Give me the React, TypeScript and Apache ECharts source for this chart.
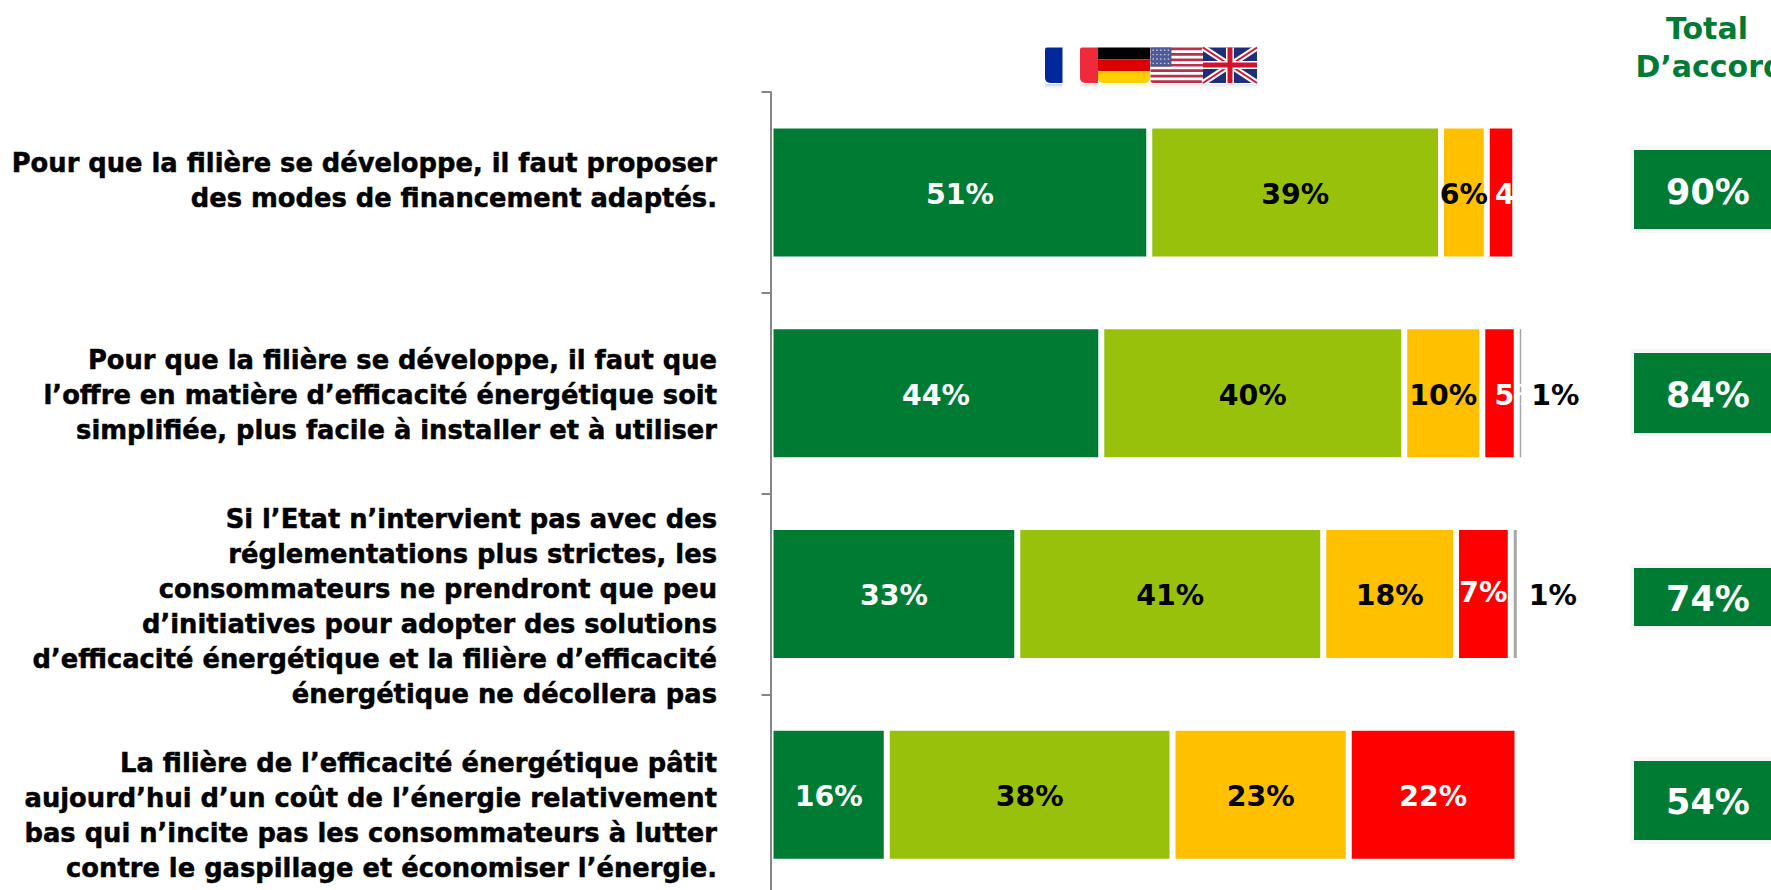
import React, { useEffect, useRef } from "react";
import * as echarts from "echarts";

const categories = [
  "Pour que la filière se développe, il faut proposer\ndes modes de financement adaptés.",
  "Pour que la filière se développe, il faut que\nl’offre en matière d’efficacité énergétique soit\nsimplifiée, plus facile à installer et à utiliser",
  "Si l’Etat n’intervient pas avec des\nréglementations plus strictes, les\nconsommateurs ne prendront que peu\nd’initiatives pour adopter des solutions\nd’efficacité énergétique et la filière d’efficacité\nénergétique ne décollera pas",
  "La filière de l’efficacité énergétique pâtit\naujourd’hui d’un coût de l’énergie relativement\nbas qui n’incite pas les consommateurs à lutter\ncontre le gaspillage et économiser l’énergie.",
];
const categoryCentres = [180, 395, 606.5, 815.5];

const darkGreen = [50.5, 44.1, 32.9, 15.5];
const lightGreen = [38.9, 40.4, 40.8, 38.1];
const orange = [6.1, 10.4, 17.7, 23.5];
const red = [3.8, 4.6, 7.3, 22.5];
const grey = [null, 1.0, 1.2, null];

const darkGreenLabels = ["51%", "44%", "33%", "16%"];
const lightGreenLabels = ["39%", "40%", "41%", "38%"];
const orangeLabels = ["6%", "10%", "18%", "23%"];
const redLabels = ["4%", "5%", "7%", "22%"];
const greyLabels = ["", "1%", "1%", ""];

const totalLabels = ["90%", "84%", "74%", "54%"];
const totalBoxes = [
  [150, 79],
  [353, 80],
  [568, 58],
  [761, 79],
];

const GREEN = "#007B34";
const FONT = "'DejaVu Sans', Verdana, sans-serif";
const labelSize = 28.4;

function flagElements() {
  const y = 47.5;
  const h = 35.5;
  const els: any[] = [];
  const rr = [0, 0, 5, 5];
  const rect = (x: number, yy: number, w: number, hh: number, fill: string, r: any = 0) =>
    els.push({ type: "rect", shape: { x, y: yy, width: w, height: hh, r }, style: { fill } });
  const refl = (x: number, w: number, c: string) =>
    els.push({
      type: "rect",
      shape: { x, y: y + h + 1, width: w, height: 7 },
      style: {
        fill: new echarts.graphic.LinearGradient(0, 0, 0, 1, [
          { offset: 0, color: c },
          { offset: 1, color: "rgba(255,255,255,0)" },
        ]),
      },
    });
  refl(1045, 17, "rgba(0,40,150,0.22)");
  refl(1080, 18, "rgba(240,40,60,0.16)");
  refl(1098, 52, "rgba(255,205,0,0.14)");
  refl(1150, 53, "rgba(160,60,80,0.12)");
  refl(1203, 54, "rgba(30,50,120,0.14)");
  // France
  rect(1045, y, 17.5, h, "#00289A", [2, 0, 0, 5]);
  rect(1080, y, 18, h, "#EF2B3B", [2, 0, 0, 5]);
  // Germany
  rect(1098, y, 52, h / 3, "#000000");
  rect(1098, y + h / 3, 52, h / 3, "#DD0000");
  rect(1098, y + (2 * h) / 3, 52, h / 3, "#FFCE00", rr);
  // USA
  rect(1150.5, y, 53, h, "#FFFFFF", rr);
  for (let i = 0; i < 7; i++) {
    rect(1150.5, y + (i * 2 * h) / 13, 53, h / 13, "#B5324A", i === 6 ? rr : 0);
  }
  rect(1150.5, y, 21, (7 * h) / 13, "#4F5A96");
  for (let r = 0; r < 4; r++) {
    for (let c = 0; c < 5; c++) {
      rect(1152.5 + c * 3.8, y + 2 + r * 4.4, 1.4, 1.4, "#C8CCE0");
    }
  }
  // UK
  rect(1203, y, 54, h, "#1E2F78", rr);
  const line = (x1: number, y1: number, x2: number, y2: number, stroke: string, lineWidth: number) =>
    els.push({ type: "line", shape: { x1, y1, x2, y2 }, style: { stroke, lineWidth } });
  line(1203, y, 1257, y + h, "#FFFFFF", 6);
  line(1257, y, 1203, y + h, "#FFFFFF", 6);
  line(1203, y, 1257, y + h, "#CF142B", 2);
  line(1257, y, 1203, y + h, "#CF142B", 2);
  rect(1226, y, 8, h, "#FFFFFF");
  rect(1203, y + 13.5, 54, 8, "#FFFFFF");
  rect(1227.5, y, 5, h, "#CF142B");
  rect(1203, y + 15, 54, 5, "#CF142B");
  return els;
}

function makeSeries(
  name: string,
  data: (number | null)[],
  labels: string[],
  fill: string,
  text: string,
  perLabel: Record<number, any> = {}
) {
  return {
    name,
    type: "bar",
    stack: "all",
    barWidth: 134,
    itemStyle: { color: fill, borderColor: "#FFFFFF", borderWidth: 3 },
    data: data.map((value, i) => ({
      value,
      label: {
        show: !!labels[i],
        formatter: labels[i],
        color: text,
        fontFamily: FONT,
        fontWeight: "bold",
        fontSize: labelSize,
        position: "inside",
        offset: [0, 2],
        ...(perLabel[i] || {}),
      },
    })),
  };
}

export default function App() {
  const ref = useRef<HTMLDivElement>(null);
  useEffect(() => {
    const chart = echarts.init(ref.current!, null, { renderer: "svg" });
    const graphics: any[] = [
      ...flagElements(),
      ...categories.map((text, i) => ({
        type: "text",
        x: 717,
        y: categoryCentres[i],
        scaleX: 0.955,
        style: {
          text,
          align: "right",
          verticalAlign: "middle",
          fontFamily: FONT,
          fontWeight: "bold",
          fontSize: 27,
          lineHeight: 35,
          fill: "#000000",
          stroke: "#000000",
          lineWidth: 0.5,
        },
      })),
      ...totalBoxes.flatMap(([top, height], i) => [
        {
          type: "rect",
          shape: { x: 1632, y: top - 2, width: 170, height: height + 4 },
          style: { fill: GREEN, stroke: "#F7F7F7", lineWidth: 4 },
        },
        {
          type: "text",
          x: 1708,
          y: top + height / 2 + (i === 3 ? 1 : 2),
          style: {
            text: totalLabels[i],
            align: "center",
            verticalAlign: "middle",
            fontFamily: FONT,
            fontWeight: "bold",
            fontSize: 35,
            fill: "#FFFFFF",
          },
        },
      ]),
      {
        type: "text",
        x: 1707,
        y: 28,
        style: { text: "Total", align: "center", verticalAlign: "middle", fontFamily: FONT, fontWeight: "bold", fontSize: 30, fill: GREEN },
      },
      {
        type: "text",
        x: 1710,
        y: 66,
        style: { text: "D’accord", align: "center", verticalAlign: "middle", fontFamily: FONT, fontWeight: "bold", fontSize: 30, fill: GREEN },
      },
    ];
    chart.setOption({
      animation: false,
      backgroundColor: "#FFFFFF",
      grid: { left: 770.5, top: 92, width: 765, height: 803, outerBoundsMode: "none" },
      xAxis: { type: "value", min: 0, max: 102, show: false },
      yAxis: {
        type: "category",
        inverse: true,
        data: categories,
        z: 10,
        axisLine: { lineStyle: { color: "#868686", width: 2 } },
        axisTick: { show: true, length: 9, lineStyle: { color: "#868686", width: 2 } },
        axisLabel: { show: false },
      },
      series: [
        makeSeries("Tout à fait d’accord", darkGreen, darkGreenLabels, GREEN, "#FFFFFF"),
        makeSeries("Plutôt d’accord", lightGreen, lightGreenLabels, "#98C10C", "#000000"),
        makeSeries("Plutôt pas d’accord", orange, orangeLabels, "#FFC000", "#000000"),
        makeSeries("Pas du tout d’accord", red, redLabels, "#FF0000", "#FFFFFF", {
          0: { offset: [18, 2] },
          1: { offset: [19, 2] },
          2: { offset: [0, -1] },
        }),
        makeSeries("NSP", grey, greyLabels, "#A6A6A6", "#000000", {
          1: { position: "right", distance: 7, offset: [0, 2] },
          2: { position: "right", distance: 9, offset: [0, 2] },
        }),
      ],
      graphic: { elements: graphics },
    });
    return () => chart.dispose();
  }, []);
  return (
    <div
      ref={ref}
      style={{ position: "fixed", left: 0, top: 0, width: 1771, height: 890, overflow: "hidden" }}
    />
  );
}
